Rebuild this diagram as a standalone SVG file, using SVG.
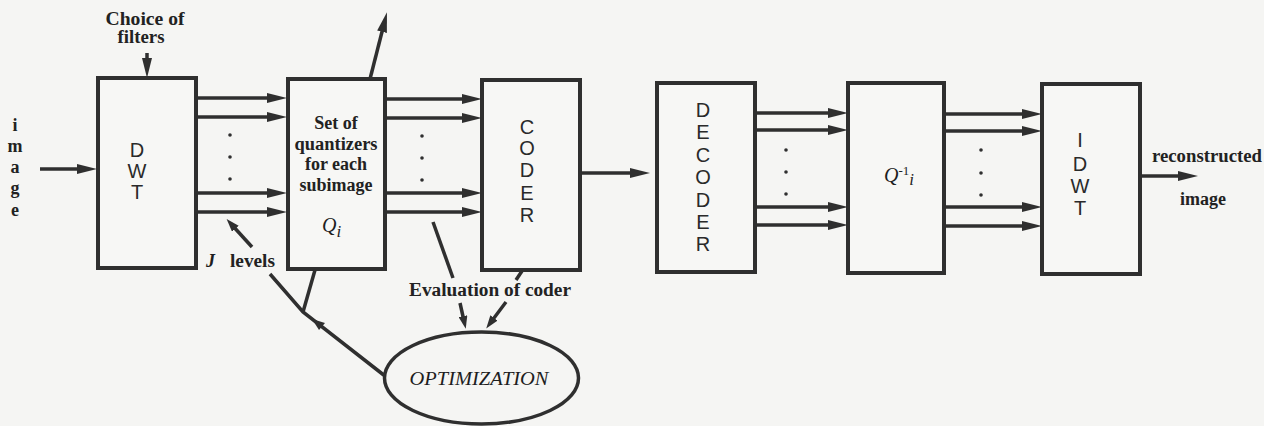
<svg xmlns="http://www.w3.org/2000/svg" width="1264" height="426" viewBox="0 0 1264 426">
<defs>
<marker id="ah" viewBox="0 0 20 10" markerWidth="20" markerHeight="11" refX="8" refY="5" orient="auto" markerUnits="userSpaceOnUse">
<path d="M0,0 L20,5 L0,10 Z" fill="#2f2f2f"/>
</marker>
<marker id="ahs" viewBox="0 0 13 9" markerWidth="13" markerHeight="9" refX="5" refY="4.5" orient="auto" markerUnits="userSpaceOnUse">
<path d="M0,0 L13,4.5 L0,9 Z" fill="#2f2f2f"/>
</marker>
<style>
.box{fill:#f7f7f5;stroke:#2f2f2f;stroke-width:4}
.ln{stroke:#2f2f2f;stroke-width:3.5;fill:none}
.ar{stroke:#2f2f2f;stroke-width:3.5;fill:none;marker-end:url(#ah)}
.ars{stroke:#2f2f2f;stroke-width:3.5;fill:none;marker-end:url(#ahs)}
.sans{font-family:"Liberation Sans",Arial,sans-serif;font-size:20px;fill:#2a2a2a;text-anchor:middle}
.ser{font-family:"Liberation Serif","Times New Roman",serif;font-size:18px;font-weight:bold;fill:#222}
.it{font-family:"Liberation Serif","Times New Roman",serif;font-style:italic;fill:#1e1e1e}
.dot{fill:#2f2f2f}
</style>
</defs>
<rect x="0" y="0" width="1264" height="426" fill="#f5f5f3"/>

<g id="labels">
<text class="ser" x="145" y="25" text-anchor="middle" textLength="79" lengthAdjust="spacingAndGlyphs">Choice of</text>
<text class="ser" x="141" y="43" text-anchor="middle" textLength="47" lengthAdjust="spacingAndGlyphs">filters</text>
<g id="input-label">
<text class="ser" x="15" y="131" text-anchor="middle">i</text>
<text class="ser" x="15" y="152" text-anchor="middle">m</text>
<text class="ser" x="15" y="173" text-anchor="middle">a</text>
<text class="ser" x="15" y="194" text-anchor="middle">g</text>
<text class="ser" x="15" y="216" text-anchor="middle">e</text>
</g>
<g id="jlevels">
<text class="it" x="206" y="267" font-size="18" font-weight="bold">J</text>
<text class="ser" x="230" y="267" textLength="45" lengthAdjust="spacingAndGlyphs">levels</text>
</g>
<text class="ser" x="490" y="296" text-anchor="middle" textLength="162" lengthAdjust="spacingAndGlyphs">Evaluation of coder</text>
<text class="ser" x="1207" y="162" text-anchor="middle" textLength="110" lengthAdjust="spacingAndGlyphs">reconstructed</text>
<text class="ser" x="1203" y="205" text-anchor="middle">image</text>
</g>

<g id="dwt">
<rect class="box" x="98" y="78" width="98" height="190"/>
<text class="sans" x="137" y="157">D</text>
<text class="sans" x="137" y="178">W</text>
<text class="sans" x="137" y="199">T</text>
</g>

<g id="quantizers">
<rect class="box" x="288" y="79" width="97" height="190"/>
<text class="ser" x="336" y="129" text-anchor="middle">Set of</text>
<text class="ser" x="336" y="150" text-anchor="middle" textLength="83" lengthAdjust="spacingAndGlyphs">quantizers</text>
<text class="ser" x="336" y="170" text-anchor="middle">for each</text>
<text class="ser" x="336" y="191" text-anchor="middle">subimage</text>
<text class="it" x="322" y="232" font-size="20">Q<tspan font-size="17" dy="5">i</tspan></text>
</g>

<g id="coder">
<rect class="box" x="482" y="80" width="98" height="190"/>
<text class="sans" x="527" y="134">C</text>
<text class="sans" x="527" y="155">O</text>
<text class="sans" x="527" y="177">D</text>
<text class="sans" x="527" y="200">E</text>
<text class="sans" x="527" y="222">R</text>
</g>

<g id="decoder">
<rect class="box" x="657" y="83" width="98" height="189"/>
<text class="sans" x="703" y="117">D</text>
<text class="sans" x="703" y="139">E</text>
<text class="sans" x="703" y="162">C</text>
<text class="sans" x="703" y="184">O</text>
<text class="sans" x="703" y="207">D</text>
<text class="sans" x="703" y="229">E</text>
<text class="sans" x="703" y="251">R</text>
</g>

<g id="dequantizer">
<rect class="box" x="848" y="83" width="96" height="190"/>
<text class="it" x="884" y="182" font-size="20">Q<tspan font-size="13" dy="-7" font-style="normal">-1</tspan><tspan font-size="17" dy="10">i</tspan></text>
</g>

<g id="idwt">
<rect class="box" x="1042" y="84" width="98" height="190"/>
<text class="sans" x="1080" y="147">I</text>
<text class="sans" x="1080" y="171">D</text>
<text class="sans" x="1080" y="193">W</text>
<text class="sans" x="1080" y="215">T</text>
</g>

<g id="optimization">
<ellipse cx="481.5" cy="378" rx="97" ry="46" fill="none" stroke="#2f2f2f" stroke-width="3.5"/>
<text class="it" x="479" y="385" font-size="18" text-anchor="middle" textLength="139" lengthAdjust="spacingAndGlyphs">OPTIMIZATION</text>
</g>

<g id="connectors">
<line class="ar" x1="40" y1="169" x2="85" y2="169"/>
<line class="ar" x1="147" y1="53" x2="147" y2="66"/>
<line class="ar" x1="197" y1="98" x2="275" y2="98"/>
<line class="ar" x1="197" y1="117" x2="275" y2="117"/>
<line class="ar" x1="197" y1="193" x2="275" y2="193"/>
<line class="ar" x1="197" y1="212" x2="275" y2="212"/>
<line class="ar" x1="370" y1="79" x2="384" y2="24"/>
<line class="ar" x1="386" y1="99" x2="470" y2="99"/>
<line class="ar" x1="386" y1="118" x2="470" y2="118"/>
<line class="ar" x1="386" y1="193" x2="470" y2="193"/>
<line class="ar" x1="386" y1="212" x2="470" y2="212"/>
<line class="ar" x1="581" y1="173" x2="638" y2="173"/>
<line class="ar" x1="756" y1="113" x2="836" y2="113"/>
<line class="ar" x1="756" y1="130" x2="836" y2="130"/>
<line class="ar" x1="756" y1="207" x2="836" y2="207"/>
<line class="ar" x1="756" y1="225" x2="836" y2="225"/>
<line class="ar" x1="945" y1="114" x2="1030" y2="114"/>
<line class="ar" x1="945" y1="131" x2="1030" y2="131"/>
<line class="ar" x1="945" y1="207" x2="1030" y2="207"/>
<line class="ar" x1="945" y1="226" x2="1030" y2="226"/>
<line class="ar" x1="1141" y1="176" x2="1186" y2="176"/>
<line class="ars" x1="252" y1="247" x2="232" y2="225"/>
<line class="ln" x1="315" y1="270" x2="303" y2="312"/>
<polyline class="ln" points="385,376 303,312 270,274"/>
<polygon points="312,319 325,323 319,330" fill="#2f2f2f"/>
<line class="ln" x1="433" y1="222" x2="453" y2="278"/>
<line class="ln" x1="522" y1="271" x2="516" y2="280"/>
<line class="ars" x1="460" y1="303" x2="464" y2="321"/>
<line class="ars" x1="506" y1="302" x2="491" y2="322"/>
<circle class="dot" cx="230" cy="135" r="1.8"/>
<circle class="dot" cx="230" cy="157" r="1.8"/>
<circle class="dot" cx="230" cy="179" r="1.8"/>
<circle class="dot" cx="422" cy="136" r="1.8"/>
<circle class="dot" cx="422" cy="158" r="1.8"/>
<circle class="dot" cx="422" cy="180" r="1.8"/>
<circle class="dot" cx="786" cy="150" r="1.8"/>
<circle class="dot" cx="786" cy="172" r="1.8"/>
<circle class="dot" cx="786" cy="194" r="1.8"/>
<circle class="dot" cx="981" cy="150" r="1.8"/>
<circle class="dot" cx="981" cy="173" r="1.8"/>
<circle class="dot" cx="981" cy="195" r="1.8"/>
</g>
</svg>
